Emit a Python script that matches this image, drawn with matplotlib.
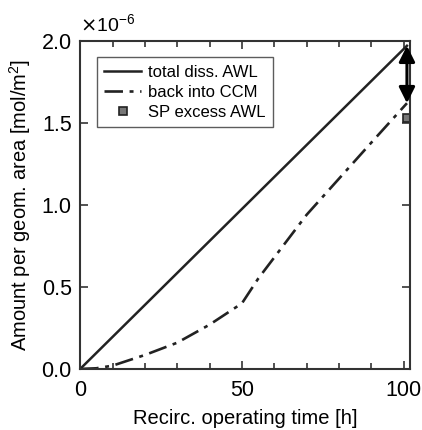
import numpy as np
import matplotlib
matplotlib.use("Agg")
import matplotlib.pyplot as plt
from matplotlib.ticker import MultipleLocator

plt.rcParams['font.family'] = ['Liberation Sans', 'DejaVu Sans']

# data (amounts in mol/m^2)
t_total = [0, 101]
total_diss = [0, 1.97e-6]

t_back = [0, 5, 10, 20, 30, 40, 50, 55, 60, 70, 80, 90, 101]
back_ccm = [0, 0.004e-6, 0.02e-6, 0.085e-6, 0.16e-6, 0.27e-6, 0.40e-6,
            0.55e-6, 0.68e-6, 0.94e-6, 1.16e-6, 1.38e-6, 1.62e-6]

t_sp = [101]
sp_excess = [1.53e-6]

fig = plt.figure(figsize=(4.22, 4.30), dpi=100)
ax = fig.add_axes([0.19, 0.142, 0.782, 0.763])

ax.plot(t_total, total_diss, color='#222222', lw=1.8, label='total diss. AWL')
ax.plot(t_back, back_ccm, color='#222222', lw=1.9, ls=(0, (7, 2.5, 1.5, 2.5)),
        label='back into CCM')
ax.plot(t_sp, sp_excess, ls='none', marker='s', ms=6, mfc='#777777',
        mec='#222222', mew=1.2, label='SP excess AWL')

ax.annotate('', xy=(t_total[-1], back_ccm[-1]), xytext=(t_total[-1], total_diss[-1]),
            arrowprops=dict(arrowstyle='<|-|>', color='black', lw=2.2,
                            mutation_scale=24, shrinkA=0, shrinkB=0))

ax.set_xlim(0, 102)
ax.set_ylim(0, 2e-6)
ax.xaxis.set_major_locator(MultipleLocator(50))
ax.xaxis.set_minor_locator(MultipleLocator(10))
ax.set_yticks([0, 0.5e-6, 1e-6, 1.5e-6, 2e-6])
ax.set_yticklabels(['0.0', '0.5', '1.0', '1.5', '2.0'])
ax.tick_params(which='both', direction='in', top=True, right=True,
               labelsize=15.5, color='#333333', width=1.2)
ax.tick_params(which='major', length=6, pad=6)
ax.tick_params(axis='x', which='major', pad=8)
ax.tick_params(which='minor', length=4)
for s in ax.spines.values():
    s.set_linewidth(1.5)
    s.set_color('#333333')

ax.text(0.0, 1.015, r'$\times$10$^{\mathregular{-6}}$', transform=ax.transAxes,
        fontsize=14, ha='left', va='bottom')

ax.set_xlabel('Recirc. operating time [h]', fontsize=14.5, labelpad=6)
ax.set_ylabel(r'Amount per geom. area [mol/m$^\mathregular{2}$]', fontsize=14.5, labelpad=6)

leg = ax.legend(loc='upper left', bbox_to_anchor=(0.05, 0.95), fontsize=12,
                frameon=True, fancybox=False, edgecolor='#333333', handlelength=2.2,
                handletextpad=0.4, borderpad=0.45, labelspacing=0.3, borderaxespad=0)
leg.get_frame().set_linewidth(1.0)

fig.savefig('out.png', dpi=100)
